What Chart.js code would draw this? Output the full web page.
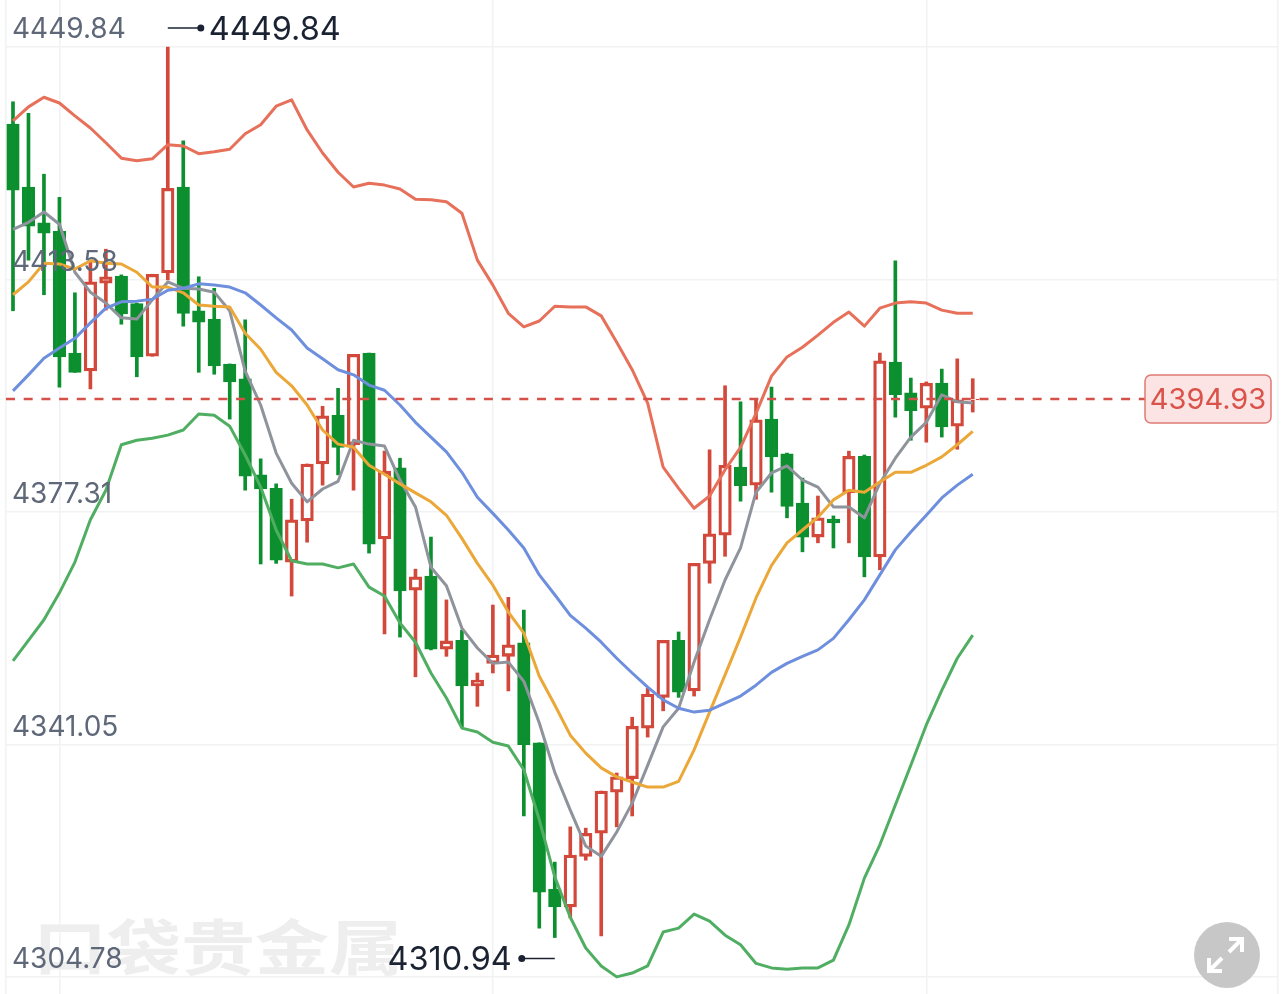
<!DOCTYPE html>
<html>
<head>
<meta charset="utf-8">
<style>
  html, body { margin: 0; padding: 0; background: #fff; }
  canvas { display: block; }
</style>
<script src="https://cdn.jsdelivr.net/npm/chart.js@4/dist/chart.umd.js"></script>
</head>
<body>
<canvas id="kline" width="1284" height="994"></canvas>
<script>
// y axis labels
const yTicks = [4304.78, 4341.05, 4377.31, 4413.58, 4449.84];
const lastPrice = 4394.93;
const highPrice = 4449.84;
const lowPrice = 4310.94;

// candles
const opens = [4437.8,4428.0,4422.4,4421.1,4402.1,4399.3,4413.0,4414.1,4409.8,4401.6,4414.6,4428.0,4408.7,4407.4,4400.4,4398.1,4383.1,4381.0,4369.5,4375.9,4384.8,4392.4,4387.8,4402.1,4373.1,4384.2,4365.1,4367.3,4355.9,4357.3,4350.2,4353.7,4354.8,4356.9,4341.3,4318.5,4315.7,4323.6,4327.2,4333.6,4335.7,4343.6,4348.4,4357.3,4349.4,4369.3,4373.7,4384.3,4381.5,4391.8,4386.4,4378.7,4373.4,4376.2,4380.3,4386.0,4370.3,4400.7,4395.9,4393.5,4397.4,4390.7,4394.8];
const highs = [4441.3,4439.5,4430.0,4426.4,4411.5,4416.3,4418.3,4414.3,4409.9,4414.4,4449.84,4435.2,4414.0,4412.2,4400.4,4407.3,4385.6,4381.7,4379.3,4384.8,4393.8,4396.6,4401.9,4402.1,4386.8,4385.7,4368.4,4373.4,4363.6,4358.9,4352.2,4362.8,4364.0,4362.0,4341.3,4322.7,4328.2,4328.0,4333.8,4336.6,4345.3,4349.8,4357.3,4358.6,4369.3,4387.0,4397.0,4394.5,4394.8,4396.8,4386.5,4382.6,4379.8,4376.7,4386.8,4386.2,4402.1,4416.5,4398.2,4397.6,4399.6,4401.2,4398.1];
const lows = [4408.7,4416.6,4411.2,4396.8,4399.1,4396.5,4408.8,4406.6,4398.4,4401.6,4413.5,4406.3,4399.1,4398.8,4391.8,4380.7,4369.2,4369.3,4364.2,4372.6,4381.5,4383.1,4380.7,4370.9,4358.3,4357.8,4351.6,4355.8,4354.8,4343.8,4347.0,4352.2,4349.4,4329.9,4312.4,4310.94,4314.0,4323.0,4311.2,4328.2,4329.9,4342.2,4346.3,4348.4,4348.6,4366.2,4370.4,4379.0,4379.3,4380.4,4376.4,4371.1,4372.5,4371.7,4372.5,4367.2,4368.3,4392.1,4388.5,4388.2,4389.0,4387.1,4392.9];
const closes = [4427.5,4421.9,4420.8,4401.5,4399.1,4413.2,4414.0,4408.2,4401.5,4414.4,4427.8,4408.3,4406.9,4400.1,4397.6,4382.9,4380.9,4369.8,4376.1,4384.8,4392.3,4387.4,4401.9,4372.3,4383.7,4365.0,4367.2,4355.9,4357.2,4350.2,4351.1,4355.0,4356.6,4341.0,4318.0,4315.7,4323.8,4327.2,4333.8,4336.0,4343.9,4348.9,4357.3,4349.2,4369.3,4373.9,4384.6,4381.4,4391.7,4385.9,4378.2,4373.4,4376.4,4375.6,4386.0,4370.3,4400.9,4395.6,4393.1,4397.4,4390.6,4394.8,4394.93];

// moving averages and bands
const bandUpper = [4438.3,4440.5,4442.0,4441.1,4439.1,4437.2,4434.9,4432.5,4432.1,4432.4,4434.6,4434.4,4433.2,4433.5,4433.9,4436.3,4437.7,4440.6,4441.6,4436.9,4433.3,4430.3,4428.0,4428.6,4428.3,4427.7,4426.1,4426.0,4425.7,4423.9,4416.6,4412.7,4408.3,4406.2,4407.1,4409.4,4409.3,4409.3,4407.9,4403.8,4399.5,4394.3,4384.3,4381.0,4377.9,4379.8,4383.9,4387.4,4392.7,4398.5,4401.5,4403.0,4404.9,4406.9,4408.5,4406.3,4409.1,4409.9,4410.1,4409.9,4408.8,4408.3,4408.3];
const ma5 = [4421.4,4422.5,4424.1,4422.2,4414.7,4411.6,4409.9,4407.6,4407.4,4410.4,4413.2,4412.2,4412.1,4411.6,4408.7,4399.3,4394.0,4386.5,4381.8,4378.9,4380.9,4382.1,4388.5,4387.9,4387.6,4382.3,4378.1,4368.7,4365.8,4359.2,4356.1,4353.7,4353.9,4350.9,4344.4,4336.7,4330.8,4325.2,4323.6,4327.4,4331.9,4337.8,4343.8,4346.7,4353.9,4360.5,4366.7,4371.7,4380.4,4383.4,4384.5,4382.3,4381.2,4378.1,4378.1,4376.4,4381.8,4385.7,4389.0,4391.3,4395.6,4394.5,4394.3];
const ma10 = [4411.2,4413.2,4416.1,4416.0,4415.2,4416.5,4416.1,4416.0,4414.7,4412.4,4412.4,4411.5,4409.6,4409.4,4409.3,4405.2,4402.7,4399.1,4397.0,4394.0,4390.1,4387.9,4387.4,4384.6,4383.2,4381.7,4380.3,4378.9,4376.8,4373.2,4369.3,4365.9,4361.7,4358.4,4351.7,4347.2,4342.5,4339.7,4337.4,4336.0,4335.2,4334.4,4334.4,4335.3,4340.2,4346.1,4351.9,4357.8,4363.9,4369.0,4372.5,4374.5,4376.5,4379.2,4380.7,4380.4,4382.0,4383.5,4383.5,4384.6,4385.9,4387.8,4389.9];
const ma20 = [4396.2,4398.7,4401.3,4402.9,4404.4,4406.8,4409.1,4410.1,4410.2,4410.5,4411.9,4412.2,4412.9,4412.7,4412.4,4411.5,4409.6,4407.6,4405.7,4402.9,4401.2,4399.5,4398.7,4397.1,4396.3,4394.0,4391.3,4389.0,4386.7,4383.5,4379.6,4377.1,4374.5,4371.7,4367.5,4364.4,4361.2,4359.2,4357.0,4354.5,4352.2,4350.0,4348.0,4346.7,4346.1,4346.4,4347.5,4348.6,4350.3,4352.3,4353.7,4354.8,4355.8,4357.6,4360.5,4363.6,4367.5,4371.4,4374.2,4376.8,4379.5,4381.5,4383.2];
const bandLower = [4354.1,4357.3,4360.5,4364.7,4369.5,4376.1,4380.7,4387.8,4388.5,4388.8,4389.3,4390.1,4392.6,4392.4,4390.7,4386.2,4381.2,4374.5,4369.7,4369.2,4369.2,4368.6,4369.2,4365.6,4364.2,4360.0,4357.0,4352.2,4348.3,4343.6,4343.0,4341.4,4340.8,4337.1,4329.3,4320.4,4314.1,4309.3,4306.5,4304.8,4305.4,4306.5,4311.8,4312.4,4314.6,4313.5,4311.3,4309.8,4306.9,4306.2,4306.0,4306.2,4306.2,4307.4,4312.9,4320.2,4325.4,4331.6,4337.8,4344.1,4349.5,4354.5,4358.1];

const RED = '#d2483a';
const GREEN = '#0c8f2f';
const FONT = 'Inter, "Liberation Sans", sans-serif';

const isUp = i => closes[i] >= opens[i];
const xy = arr => arr.map((v, i) => ({x: i, y: v}));
const lineSet = (data, color) => ({
  type: 'line', data: xy(data), borderColor: color, borderWidth: 3,
  pointRadius: 0, tension: 0, order: 1, borderJoinStyle: 'round'
});

// watermark, drawn under everything
const watermark = {
  id: 'watermark',
  beforeDatasetsDraw(chart) {
    const ctx = chart.ctx;
    ctx.save();
    ctx.fillStyle = '#eeeeee';
    ctx.font = 'bold 74px "Noto Sans CJK SC"';
    ctx.textBaseline = 'alphabetic';
    ctx.translate(33, 970);
    ctx.scale(1, 0.82);
    ctx.fillText('口袋贵金属', 0, 0);
    ctx.restore();
  }
};

// high/low flags, last price line and the expand button
const overlays = {
  id: 'overlays',
  afterDraw(chart) {
    const ctx = chart.ctx;
    const {x, y} = chart.scales;
    const ink = '#1b2333';
    ctx.save();

    // last price
    const py = Math.round(y.getPixelForValue(lastPrice));
    ctx.strokeStyle = '#d6504a';
    ctx.lineWidth = 2.6;
    ctx.setLineDash([9, 8.7]);
    ctx.beginPath();
    ctx.moveTo(6, py);
    ctx.lineTo(1145, py);
    ctx.stroke();
    ctx.setLineDash([]);

    ctx.beginPath();
    ctx.roundRect(1145, py - 24, 126, 48, 6);
    ctx.fillStyle = '#fbe4e3';
    ctx.fill();
    ctx.strokeStyle = '#e07a74';
    ctx.lineWidth = 1.5;
    ctx.stroke();
    ctx.fillStyle = '#d9534a';
    ctx.font = '29px ' + FONT;
    ctx.textAlign = 'center';
    ctx.textBaseline = 'middle';
    ctx.fillText(lastPrice.toFixed(2), 1208, py + 1);

    // high flag
    const hi = highs.indexOf(highPrice);
    const hx = x.getPixelForValue(hi);
    const hy = y.getPixelForValue(highPrice) - 19;
    ctx.strokeStyle = ink;
    ctx.fillStyle = ink;
    ctx.lineWidth = 1.5;
    ctx.beginPath();
    ctx.moveTo(hx, hy);
    ctx.lineTo(hx + 33, hy);
    ctx.stroke();
    ctx.beginPath();
    ctx.arc(hx + 33, hy, 3.5, 0, Math.PI * 2);
    ctx.fill();
    ctx.font = '32.5px ' + FONT;
    ctx.textAlign = 'left';
    ctx.fillText(highPrice.toFixed(2), hx + 41, hy + 2);

    // low flag
    const li = lows.indexOf(lowPrice);
    const lx = x.getPixelForValue(li);
    const ly = y.getPixelForValue(lowPrice) + 21;
    ctx.beginPath();
    ctx.moveTo(lx, ly);
    ctx.lineTo(lx - 33, ly);
    ctx.stroke();
    ctx.beginPath();
    ctx.arc(lx - 33, ly, 3.5, 0, Math.PI * 2);
    ctx.fill();
    ctx.textAlign = 'right';
    ctx.fillText(lowPrice.toFixed(2), lx - 43, ly + 2);

    // expand button
    ctx.fillStyle = '#c7c7c7';
    ctx.beginPath();
    ctx.arc(1227, 955, 33, 0, Math.PI * 2);
    ctx.fill();
    ctx.strokeStyle = '#fff';
    ctx.lineWidth = 4;
    ctx.beginPath();
    ctx.moveTo(1229, 952); ctx.lineTo(1242, 939);
    ctx.moveTo(1229, 939); ctx.lineTo(1242, 939); ctx.lineTo(1242, 952);
    ctx.moveTo(1222, 958); ctx.lineTo(1209, 971);
    ctx.moveTo(1209, 958); ctx.lineTo(1209, 971); ctx.lineTo(1222, 971);
    ctx.stroke();
    ctx.restore();
  }
};

// the axes sit inside the plot, so they must not take any room from it
const noRoom = axis => {
  axis.width = axis.isHorizontal() ? axis.width : 0;
  axis.height = axis.isHorizontal() ? 0 : axis.height;
  axis.paddingTop = axis.paddingBottom = axis.paddingLeft = axis.paddingRight = 0;
};

const chart = new Chart(document.getElementById('kline'), {
  type: 'bar',
  data: {
    datasets: [
      lineSet(bandUpper, '#e7705a'),
      lineSet(bandLower, '#50ae62'),
      lineSet(ma20, '#6e8fdd'),
      lineSet(ma10, '#eba737'),
      lineSet(ma5, '#8f939c'),
      {
        // candle bodies
        data: opens.map((o, i) => ({x: i, y: [o, closes[i]]})),
        barThickness: 12.5,
        grouped: false,
        borderSkipped: false,
        borderWidth: 3.3,
        order: 2,
        borderColor: opens.map((o, i) => isUp(i) ? RED : GREEN),
        backgroundColor: opens.map((o, i) => isUp(i) ? '#ffffff' : GREEN)
      },
      {
        // wicks
        data: highs.map((h, i) => ({x: i, y: [lows[i], h]})),
        barThickness: 3,
        grouped: false,
        borderWidth: 0,
        order: 3,
        backgroundColor: opens.map((o, i) => isUp(i) ? RED : GREEN)
      }
    ]
  },
  options: {
    responsive: false,
    animation: false,
    layout: {padding: {left: 6, right: 6, top: 0, bottom: 0}},
    plugins: {legend: {display: false}, tooltip: {enabled: false}},
    scales: {
      x: {
        type: 'linear',
        offset: false,
        min: -0.452,
        max: 81.72,
        afterBuildTicks: axis => {
          axis.ticks = [axis.min, 3, 31, 59, axis.max].map(v => ({value: v}));
        },
        afterFit: noRoom,
        ticks: {display: false},
        grid: {color: '#f1f2f4', lineWidth: 1.5, drawTicks: false, tickLength: 0, offset: false},
        border: {display: false}
      },
      y: {
        min: 4302.13,
        max: 4457.17,
        afterBuildTicks: axis => {
          axis.ticks = yTicks.map(v => ({value: v}));
        },
        afterFit: noRoom,
        ticks: {
          mirror: true,
          padding: 6,
          z: 1,
          labelOffset: -17,
          color: '#5f6878',
          font: {family: FONT, size: 28},
          callback: v => v.toFixed(2)
        },
        grid: {color: '#f1f2f4', lineWidth: 1.5, drawTicks: false, tickLength: 0},
        border: {display: false}
      }
    }
  },
  plugins: [watermark, overlays]
});
</script>
</body>
</html>
